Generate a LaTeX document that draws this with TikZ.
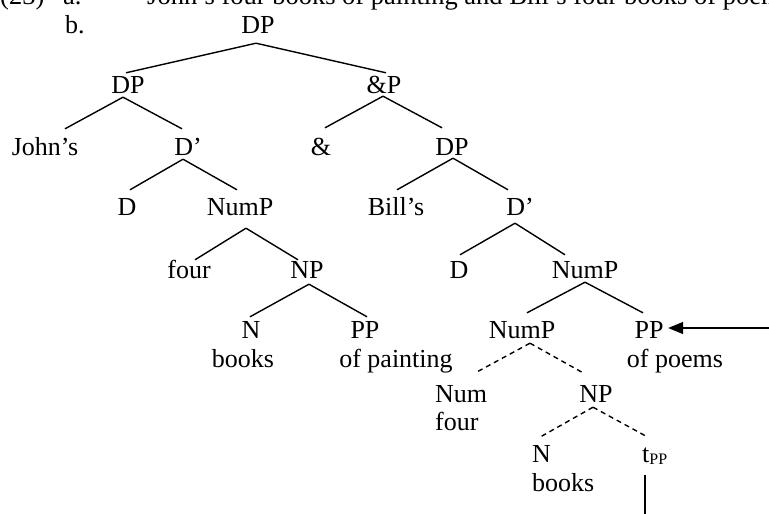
\documentclass[tikz,border=0pt]{standalone}
\usepackage{fontspec}
\setmainfont{Liberation Serif}
\usetikzlibrary{arrows.meta}
\begin{document}
\begin{tikzpicture}[x=1pt,y=-1pt,
  tn/.style={inner sep=0pt, text height=22pt, text depth=5pt, anchor=base, font=\fontsize{26}{30}\selectfont},
  tl/.style={tn, anchor=base west},
  hd/.style={tl, font=\fontsize{26.5}{30}\selectfont},
  br/.style={line width=1.4pt},
  dbr/.style={line width=1.4pt, dash pattern=on 5pt off 4pt},
  arr/.style={line width=1.4pt, -{Triangle[length=15pt,width=12pt]}}]
\useasboundingbox (0,0) rectangle (769,514);
\clip (0,0) rectangle (769,514);
% header
\node[hd] (hnum) at (0,5) {(23)};
\node[hd] (ha) at (63,5) {a.};
\node[hd] (htext) at (147,5) {John’s four books of painting and Bill’s four books of poems};
\node[tl] (hb) at (65,33) {b.};
% tree nodes
\node[tn] (root) at (258,33) {DP};
\node[tn] (dpA) at (128,93) {DP};
\node[tn] (andP) at (384,93) {\&P};
\node[tn] (johns) at (45,155) {John’s};
\node[tn] (dbarA) at (188,155) {D’};
\node[tn] (amp) at (321,155) {\&};
\node[tn] (dpB) at (452,155) {DP};
\node[tn] (dA) at (127,215) {D};
\node[tn] (numpA) at (240,215) {NumP};
\node[tn] (bills) at (396,215) {Bill’s};
\node[tn] (dbarB) at (520,215) {D’};
\node[tn] (fourA) at (189,278) {four};
\node[tn] (npA) at (307,278) {NP};
\node[tn] (dB) at (459,278) {D};
\node[tn] (numpB) at (585,278) {NumP};
\node[tn] (nA) at (251,338) {N};
\node[tn] (ppA) at (365,338) {PP};
\node[tn] (numpC) at (522,338) {NumP};
\node[tn] (ppB) at (649,338) {PP};
\node[tn] (booksA) at (243,367) {books};
\node[tn] (ofpainting) at (396,367) {of painting};
\node[tn] (ofpoems) at (675,367) {of poems};
\node[tl] (num) at (435,402) {Num};
\node[tl] (fourB) at (435,430) {four};
\node[tn] (npB) at (596,402) {NP};
\node[tl] (nB) at (532,462) {N};
\node[tl] (booksB) at (532,491) {books};
\node[tl] (tpp) at (642,462) {t\raisebox{-2pt}{\fontsize{16}{16}\selectfont PP}};
\coordinate (arrowstart) at (790,328);
\coordinate (tbottom) at (645,530);
% branches
\draw[br] ([xshift=-2pt,yshift=-5pt]root.south) -- ([xshift=-2pt,yshift=-2pt]dpA.north);
\draw[br] ([xshift=-2pt,yshift=-5pt]root.south) -- ([xshift=2pt,yshift=-2pt]andP.north);
\draw[br] ([xshift=-5pt,yshift=1pt]dpA.south) -- ([xshift=20pt,yshift=4pt]johns.north);
\draw[br] ([xshift=-5pt,yshift=1pt]dpA.south) -- ([xshift=-6pt,yshift=4pt]dbarA.north);
\draw[br] ([xshift=-1pt,yshift=2pt]andP.south) -- ([xshift=4pt,yshift=5pt]amp.north);
\draw[br] ([xshift=-1pt,yshift=2pt]andP.south) -- ([xshift=-10pt,yshift=5pt]dpB.north);
\draw[br] ([xshift=-5pt,yshift=1pt]dbarA.south) -- ([xshift=3pt,yshift=3pt]dA.north);
\draw[br] ([xshift=-5pt,yshift=1pt]dbarA.south) -- ([xshift=-3pt,yshift=3pt]numpA.north);
\draw[br] ([xshift=1pt,yshift=2pt]dpB.south) -- ([xshift=1pt,yshift=3pt]bills.north);
\draw[br] ([xshift=1pt,yshift=2pt]dpB.south) -- ([xshift=-12pt,yshift=3pt]dbarB.north);
\draw[br] ([xshift=6pt,yshift=-8pt]numpA.south) -- ([xshift=6pt,yshift=-4pt]fourA.north);
\draw[br] ([xshift=6pt,yshift=-8pt]numpA.south) -- ([xshift=-9pt,yshift=-4pt]npA.north);
\draw[br] ([xshift=-5pt,yshift=-3pt]dbarB.south) -- ([xshift=1pt,yshift=1pt]dB.north);
\draw[br] ([xshift=-5pt,yshift=-3pt]dbarB.south) -- ([xshift=-20pt,yshift=1pt]numpB.north);
\draw[br] ([xshift=2pt,yshift=-1pt]npA.south) -- ([xshift=-1pt,yshift=-1pt]nA.north);
\draw[br] ([xshift=2pt,yshift=-1pt]npA.south) -- ([xshift=2pt,yshift=-1pt]ppA.north);
\draw[br] ([yshift=1pt]numpB.south) -- ([xshift=5pt,yshift=3pt]numpC.north);
\draw[br] ([yshift=1pt]numpB.south) -- ([xshift=-6pt,yshift=3pt]ppB.north);
\draw[dbr] ([xshift=8pt]numpC.south) -- ([xshift=16pt,yshift=8pt]num.north);
\draw[dbr] ([xshift=8pt]numpC.south) -- ([xshift=-13pt,yshift=7pt]npB.north);
\draw[dbr] ([xshift=-3pt]npB.south) -- ([xshift=-1pt,yshift=3pt]nB.north);
\draw[dbr] ([xshift=-3pt]npB.south) -- ([xshift=-7.5pt,yshift=3pt]tpp.north);
% movement
\draw[br] ([xshift=3pt,yshift=-8pt]tpp.south west) -- (tbottom);
\draw[arr] (arrowstart) -- ([xshift=4.5pt,yshift=1.5pt]ppB.east);
\end{tikzpicture}
\end{document}
